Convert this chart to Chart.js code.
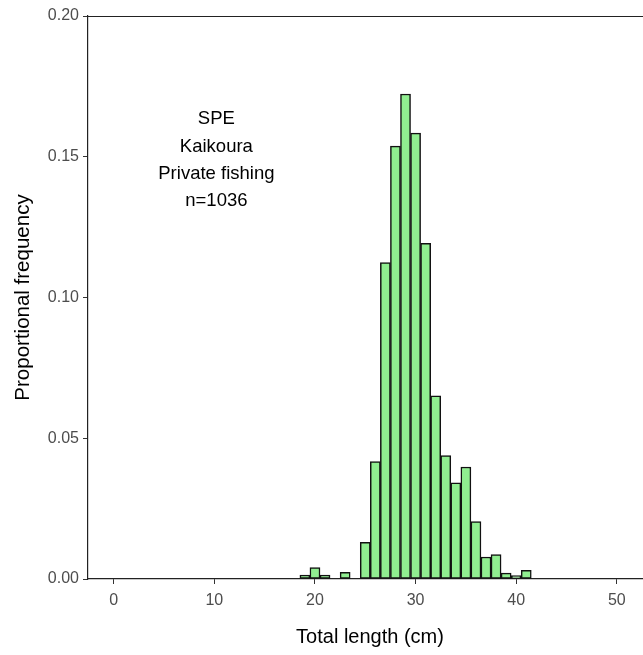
<!DOCTYPE html>
<html><head><meta charset="utf-8">
<script src="https://cdn.jsdelivr.net/npm/chart.js@4/dist/chart.umd.min.js"></script>
<style>
html,body{margin:0;padding:0;overflow:hidden;background:#fff}
#wrap{width:643px;height:655px;overflow:hidden;position:relative}
#c{display:block}
</style></head><body>
<div id="wrap"><canvas id="c" width="652" height="655" style="width:652px;height:655px"></canvas></div>
<script>
// ---- data ----
const lengthBins = [19, 20, 21, 23, 25, 26, 27, 28, 29, 30, 31, 32, 33, 34, 35, 36, 37, 38, 39, 40, 41];
const proportions = [0.0014, 0.0041, 0.0014, 0.0024, 0.0130, 0.0417, 0.1124, 0.1538, 0.1723, 0.1584, 0.1192,
                     0.0651, 0.0438, 0.0342, 0.0398, 0.0204, 0.0078, 0.0087, 0.0021, 0.0012, 0.0031];
const xTickValues = [0, 10, 20, 30, 40, 50];
const yTickValues = [0, 0.05, 0.10, 0.15, 0.20];
const annotationLines = ['SPE', 'Kaikoura', 'Private fishing', 'n=1036'];
const xTitle = 'Total length (cm)';
const yTitle = 'Proportional frequency';

const FONT = "'Liberation Sans', Arial, sans-serif";

const topLine = {
  id: 'topLine',
  afterDraw(chart) {
    const {ctx, chartArea} = chart;
    ctx.save();
    ctx.strokeStyle = '#222';
    ctx.lineWidth = 1.2;
    ctx.beginPath();
    ctx.moveTo(chartArea.left, Math.round(chartArea.top) + 0.5);
    ctx.lineTo(chart.width, Math.round(chartArea.top) + 0.5);
    ctx.stroke();
    ctx.restore();
  }
};

const annot = {
  id: 'annot',
  afterDatasetsDraw(chart) {
    const {ctx, scales} = chart;
    const cx = scales.x.getPixelForValue(10.2);
    const cy = scales.y.getPixelForValue(0.1488);
    const lh = 27.3;
    ctx.save();
    ctx.fillStyle = '#000';
    ctx.font = '18.5px ' + FONT;
    ctx.textAlign = 'center';
    ctx.textBaseline = 'middle';
    const n = annotationLines.length;
    annotationLines.forEach((t, i) => {
      ctx.fillText(t, cx, cy + (i - (n - 1) / 2) * lh);
    });
    ctx.restore();
  }
};

new Chart(document.getElementById('c'), {
  type: 'bar',
  data: {
    datasets: [{
      data: lengthBins.map((x, i) => ({x: x, y: proportions[i]})),
      backgroundColor: '#90EE90',
      borderColor: '#111',
      borderWidth: 1.5,
      borderSkipped: false,
      barPercentage: 1,
      categoryPercentage: 1
    }]
  },
  options: {
    responsive: false,
    animation: false,
    devicePixelRatio: 1,
    layout: {padding: {top: 16, left: 0, right: 0, bottom: 0}},
    plugins: {legend: {display: false}, tooltip: {enabled: false}},
    scales: {
      x: {
        type: 'linear',
        offset: false,
        min: -2.56,
        max: 53.5,
        afterBuildTicks: s => { s.ticks = xTickValues.map(v => ({value: v})); },
        afterFit: s => { s.height = 76; },
        grid: {display: true, drawOnChartArea: false, drawTicks: true, tickLength: 5, color: '#333', lineWidth: 1, offset: false},
        border: {display: true, color: '#222', width: 1.2},
        ticks: {color: '#4D4D4D', font: {family: FONT, size: 16}, padding: 7, maxRotation: 0, autoSkip: false,
                callback: v => String(v)},
        title: {display: true, text: xTitle, color: '#000', font: {family: FONT, size: 20}, padding: {top: 0, bottom: 6}}
      },
      y: {
        type: 'linear',
        min: 0,
        max: 0.2,
        afterBuildTicks: s => { s.ticks = yTickValues.map(v => ({value: v})); },
        afterFit: s => { s.width = 88; },
        grid: {display: true, drawOnChartArea: false, drawTicks: true, tickLength: 5, color: '#333', lineWidth: 1},
        border: {display: true, color: '#222', width: 1.2},
        ticks: {color: '#4D4D4D', font: {family: FONT, size: 16}, padding: 4, autoSkip: false,
                callback: v => Number(v).toFixed(2)},
        title: {display: true, text: yTitle, color: '#000', font: {family: FONT, size: 20.5}, padding: {top: 11, bottom: 0}}
      }
    }
  },
  plugins: [topLine, annot]
});
</script>
</body></html>
